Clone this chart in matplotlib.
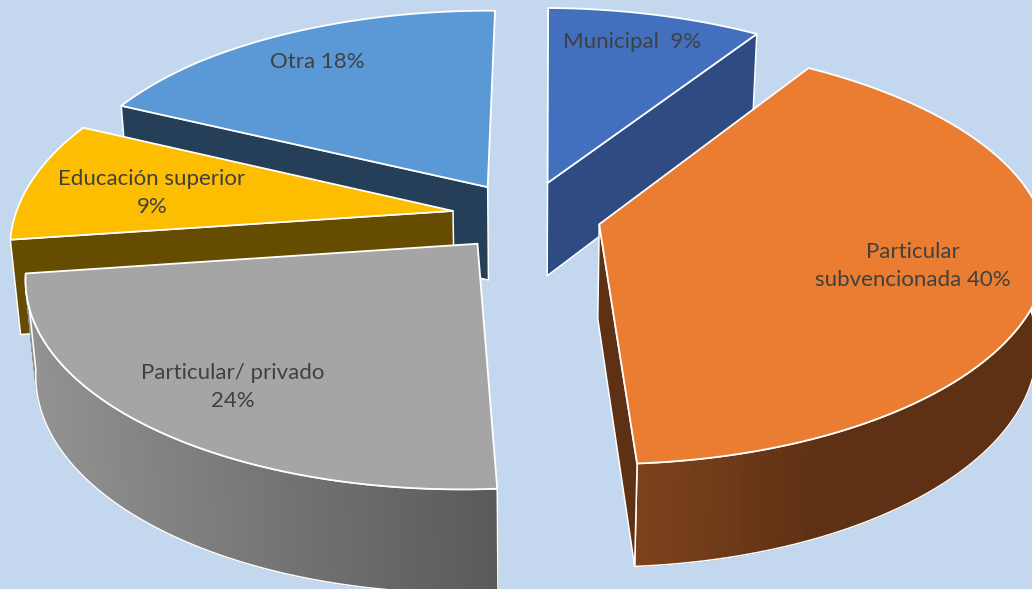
import numpy as np
import matplotlib
matplotlib.use("Agg")
import matplotlib.pyplot as plt
from matplotlib.patches import Polygon
from matplotlib.collections import PolyCollection
from matplotlib.colors import to_rgb

labels = ["Municipal  9%", "Particular\nsubvencionada 40%", "Particular/ privado\n24%",
          "Educación superior\n9%", "Otra 18%"]
values = [9, 40, 24, 9, 18]
top_colors = ["#4270BF", "#EA7D32", "#A5A5A5", "#FDBD00", "#5B99D6"]
side_colors = ["#2E4B82", "#5F3114", "#5A5A5A", "#654C00", "#243F57"]
wall_left = ["#2E4B82", "#7F431D", "#939393", "#654C00", "#243F57"]
label_xy = [(632, 42), (913, 266), (233, 387), (152, 193), (317, 62)]
draw_order = [4, 0, 3, 2, 1]

# projection of the tilted pie, fitted by eye
cx, cy = 526.5, 216
a, b, c = 440, 206, 96
k, m = 0.13, 0.02
shear_y, shear_x = 6, 3
rotate = np.radians(0.9)
explode = 0.17
bg = "#C3D7EE"


def project(x, y, z=0.0):
    w = 1 + k * y - m * z
    px = cx + a * x / w - shear_x * y
    py = cy - (b * y + c * z) / w - shear_y * x * np.clip(1 - 1.2 * y, 0, 1)
    return px, py


def faces_viewer(p0, p1, inner):
    # a cut face shows only if moving down the screen leaves the slice across this edge
    ex, ey = p1[0] - p0[0], p1[1] - p0[1]
    side_inner = ex * (inner[1] - p0[1]) - ey * (inner[0] - p0[0])
    return side_inner * ex < 0 and abs(ex) > 10


fig = plt.figure(figsize=(10.32, 5.89), dpi=100, facecolor=bg)
ax = fig.add_axes([0, 0, 1, 1])
ax.set_xlim(0, 1032)
ax.set_ylim(589, 0)
ax.axis("off")

edges = np.concatenate([[0], np.cumsum(values)]) / sum(values) * 2 * np.pi + rotate

for i in draw_order:
    t0, t1 = edges[i], edges[i + 1]
    mid = (t0 + t1) / 2
    ox, oy = explode * np.sin(mid), explode * np.cos(mid)
    t = np.linspace(t0, t1, 120)
    x = ox + np.sin(t)
    y = oy + np.cos(t)

    tx, ty = project(x, y)
    bx, by = project(x, y, -1)

    # outer wall, shaded strip by strip, front part of the arc only
    front = np.where(np.cos(t) < 0.1)[0]
    if len(front) > 1:
        strips, cols = [], []
        left, right = np.array(to_rgb(wall_left[i])), np.array(to_rgb(side_colors[i]))
        span = 1.0 if i == 2 else 0.45
        for j in front[:-1]:
            strips.append([(tx[j], ty[j]), (tx[j + 1], ty[j + 1]), (bx[j + 1], by[j + 1]), (bx[j], by[j])])
            f = min(1, (bx[j] - bx.min()) / ((bx.max() - bx.min()) * span))
            cols.append(left + (right - left) * f)
        ax.add_collection(PolyCollection(strips, facecolors=cols, edgecolors=cols, linewidths=0.9))
        ax.add_patch(Polygon(list(zip(tx[front], ty[front])) + list(zip(bx[front], by[front]))[::-1],
                             closed=True, fill=False, edgecolor="white", linewidth=1.1))

    # cut faces, only the ones turned towards the viewer
    ax0, ay0 = project(ox, oy)
    bx0, by0 = project(ox, oy, -1)
    inner = (tx.mean() * 0.5 + ax0 * 0.5, ty.mean() * 0.5 + ay0 * 0.5)
    for j in (0, -1):
        if faces_viewer((ax0, ay0), (tx[j], ty[j]), inner):
            ax.add_patch(Polygon([(ax0, ay0), (tx[j], ty[j]), (bx[j], by[j]), (bx0, by0)], closed=True,
                                 facecolor=side_colors[i], edgecolor="white", linewidth=1.1,
                                 joinstyle="round"))

    ax.add_patch(Polygon([(ax0, ay0)] + list(zip(tx, ty)), closed=True,
                         facecolor=top_colors[i], edgecolor="white", linewidth=1.3, joinstyle="round"))

for text, (lx, ly) in zip(labels, label_xy):
    ax.text(lx, ly, text, family="Lato", fontsize=16, color="#404040", ha="center", va="center",
            linespacing=1.5)

fig.savefig("out.png", dpi=100, facecolor=bg)
